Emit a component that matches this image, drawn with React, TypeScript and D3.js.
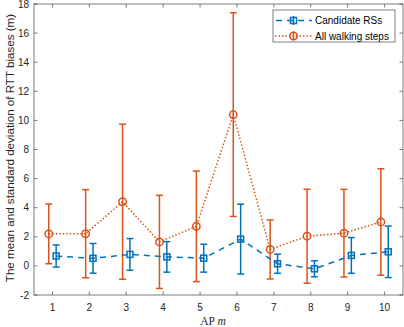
import React from 'react';
import * as d3 from 'd3';

const aps = [1, 2, 3, 4, 5, 6, 7, 8, 9, 10];
const rsMean = [0.68, 0.52, 0.79, 0.62, 0.53, 1.84, 0.15, -0.2, 0.72, 0.97];
const rsStd = [0.76, 1.02, 1.09, 1.05, 0.96, 2.4, 0.66, 0.55, 1.23, 1.77];
const allMean = [2.2, 2.21, 4.41, 1.65, 2.72, 10.4, 1.13, 2.04, 2.25, 3.02];
const allStd = [2.05, 3.03, 5.33, 3.2, 3.8, 7.0, 2.03, 3.23, 3.01, 3.66];
const yTicks = [-2, 0, 2, 4, 6, 8, 10, 12, 14, 16, 18];
const xTicks = [1, 2, 3, 4, 5, 6, 7, 8, 9, 10];
const seriesNames = ['Candidate RSs', 'All walking steps'];

const W = 404, H = 327;
const L = 34, R = 403, T = 4, B = 295;
const BLUE = '#0072BD', ORANGE = '#D95319', AX = '#262626';

export default function App() {
  const x = d3.scaleLinear().domain([0.5, 10.5]).range([L, R]);
  const y = d3.scaleLinear().domain([-2, 18]).range([B, T]);
  const off = 0.1;
  const line = d3.line<number>();
  const bluePts: [number, number][] = aps.map((a, i) => [x(a + off), y(rsMean[i])]);
  const orangePts: [number, number][] = aps.map((a, i) => [x(a - off), y(allMean[i])]);
  const cap = 3.5;
  const tick = 3.5;
  const font = "'Liberation Sans', Arial, sans-serif";

  const errBars = (xs: number[], m: number[], s: number[], c: string) =>
    xs.map((xx, i) => {
      const y1 = y(m[i] - s[i]), y2 = y(m[i] + s[i]);
      return (
        <g key={i} stroke={c} strokeWidth={1.5} fill="none">
          <line x1={xx} x2={xx} y1={y1} y2={y2} />
          <line x1={xx - cap} x2={xx + cap} y1={y1} y2={y1} />
          <line x1={xx - cap} x2={xx + cap} y1={y2} y2={y2} />
        </g>
      );
    });

  return (
    <svg width={W} height={H} style={{ position: 'absolute', left: 0, top: 0 }} fontFamily={font}>
      <rect x={0} y={0} width={W} height={H} fill="#fff" />
      {/* orange */}
      {errBars(aps.map(a => x(a - off)), allMean, allStd, ORANGE)}
      <path d={line(orangePts) || ''} fill="none" stroke={ORANGE} strokeWidth={1.5} strokeDasharray="1.5,2" />
      {orangePts.map((p, i) => (
        <circle key={i} cx={p[0]} cy={p[1]} r={3.7} fill="none" stroke={ORANGE} strokeWidth={1.5} />
      ))}
      {/* blue */}
      {errBars(aps.map(a => x(a + off)), rsMean, rsStd, BLUE)}
      <path d={line(bluePts) || ''} fill="none" stroke={BLUE} strokeWidth={1.5} strokeDasharray="6,5" />
      {bluePts.map((p, i) => (
        <rect key={i} x={p[0] - 3} y={p[1] - 3} width={6} height={6} fill="none" stroke={BLUE} strokeWidth={1.5} />
      ))}
      {/* axes box */}
      <rect x={L} y={T} width={R - L} height={B - T} fill="none" stroke={AX} strokeWidth={0.6} />
      {yTicks.map(t => (
        <g key={t}>
          <line x1={L} x2={L + tick} y1={y(t)} y2={y(t)} stroke={AX} strokeWidth={0.6} />
          <line x1={R - tick} x2={R} y1={y(t)} y2={y(t)} stroke={AX} strokeWidth={0.6} />
          <text x={L - 5} y={y(t)} dy="0.35em" textAnchor="end" fontSize={10} fill={AX}>{t}</text>
        </g>
      ))}
      {xTicks.map(t => (
        <g key={t}>
          <line x1={x(t)} x2={x(t)} y1={B} y2={B - tick} stroke={AX} strokeWidth={0.6} />
          <line x1={x(t)} x2={x(t)} y1={T} y2={T + tick} stroke={AX} strokeWidth={0.6} />
          <text x={x(t)} y={B + 12.5} dy="0.35em" textAnchor="middle" fontSize={10} fill={AX}>{t}</text>
        </g>
      ))}
      <text x={213} y={324.5} textAnchor="middle" fontSize={11.5} fill={AX} fontFamily="'Liberation Serif', serif">
        AP <tspan fontStyle="italic">m</tspan>
      </text>
      <text transform={`translate(10,148) rotate(-90)`} textAnchor="middle" dy="0.35em" fontSize={11.6} fill={AX}>
        The mean and standard deviation of RTT biases (m)
      </text>
      {/* legend */}
      <g>
        <rect x={273} y={10} width={122} height={32} fill="#fff" stroke={AX} strokeWidth={0.6} />
        <line x1={275} x2={312} y1={20.5} y2={20.5} stroke={BLUE} strokeWidth={1.5} strokeDasharray="6,5" strokeDashoffset={-1} />
        <line x1={293.5} x2={293.5} y1={16} y2={25} stroke={BLUE} strokeWidth={1.5} />
        <rect x={290.5} y={17.5} width={6} height={6} fill="none" stroke={BLUE} strokeWidth={1.5} />
        <text x={315} y={20.5} dy="0.35em" fontSize={10} fill="#000">{seriesNames[0]}</text>
        <line x1={275} x2={312} y1={36} y2={36} stroke={ORANGE} strokeWidth={1.5} strokeDasharray="1.5,2" />
        <line x1={293.5} x2={293.5} y1={31.5} y2={40.5} stroke={ORANGE} strokeWidth={1.5} />
        <circle cx={293.5} cy={36} r={3.7} fill="none" stroke={ORANGE} strokeWidth={1.5} />
        <text x={315} y={36} dy="0.35em" fontSize={10} fill="#000">{seriesNames[1]}</text>
      </g>
    </svg>
  );
}
